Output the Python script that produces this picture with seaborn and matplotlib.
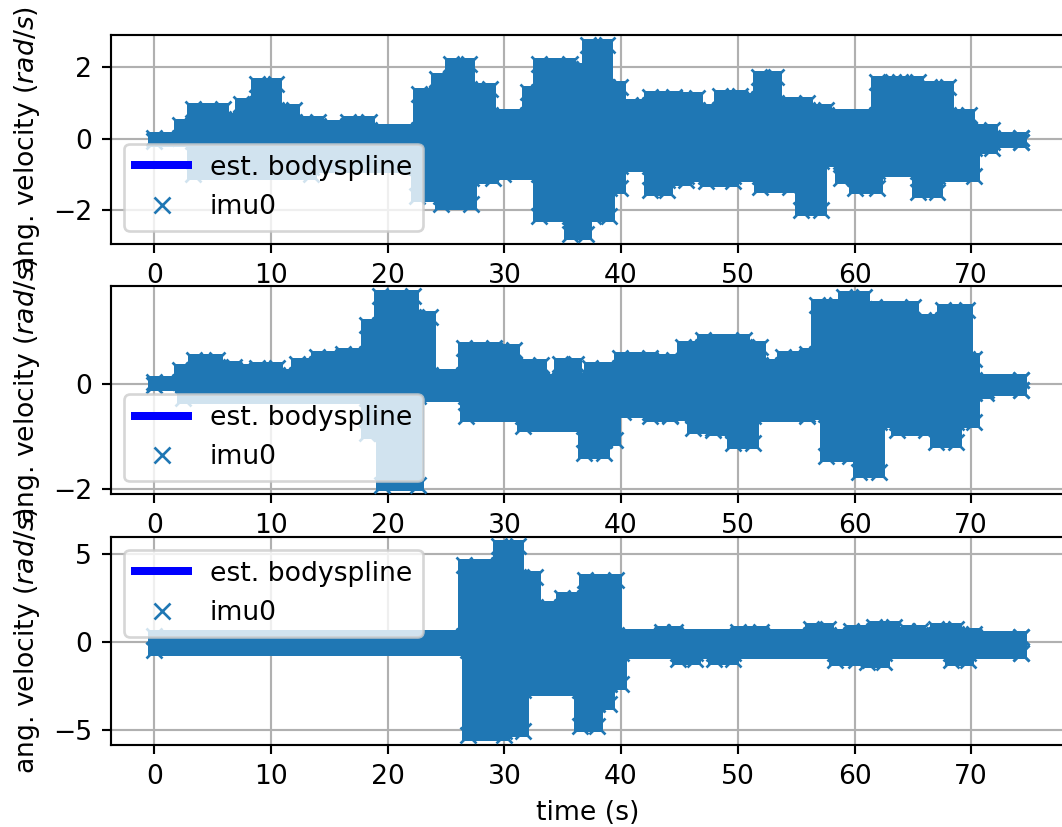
import matplotlib
matplotlib.use("Agg")
import matplotlib.pyplot as plt
import seaborn as sns
import numpy as np

# ---------------- data (envelope of the angular velocity) ----------------
# panel 1
t_hi1 = [0.0, 2.2, 3.3, 5.9, 7.4, 8.8, 10.4, 12.0, 14.0, 16.6, 18.4, 22.7, 24.2, 25.4, 27.0, 28.8,
         32.0, 33.0, 35.6, 36.8, 37.2, 38.8, 39.9, 40.8, 42.5, 44.5, 46.5, 48.5, 50.2, 51.8, 53.3,
         55.9, 57.6, 61.9, 63.3, 63.9, 65.4, 66.4, 68.0, 69.8, 71.8, 74.25]
hi1 = [0.02, 0.37, 0.84, 0.55, 0.98, 1.54, 0.8, 0.47, 0.35, 0.47, 0.25, 1.26, 1.68, 2.1, 1.4, 0.66,
       1.3, 2.1, 1.96, 1.5, 2.64, 1.45, 0.56, 0.93, 1.17, 1.13, 0.8, 1.2, 1.1, 1.73, 0.99,
       0.8, 0.65, 1.59, 0.7, 1.59, 0.8, 1.45, 0.65, 0.23, 0.02, 0.02]
t_lo1 = [0.0, 3.3, 13.4, 22.5, 24.6, 27.1, 29.0, 29.9, 33.0, 35.6, 37.0, 37.6, 39.0, 39.9, 42.5,
         43.9, 45.6, 47.3, 49.6, 51.9, 54.5, 55.4, 57.1, 58.8, 60.0, 61.9, 65.4, 67.1, 70.2, 71.8, 74.25]
lo1 = [-0.07, -1.0, -0.8, -1.6, -1.85, -1.1, -0.8, -1.0, -2.17, -2.69, -1.9, -2.18, -1.4, -0.77, -1.43,
       -1.15, -1.05, -1.2, -1.05, -1.35, -0.8, -2.0, -0.62, -1.1, -1.4, -0.9, -1.5, -1.05, -0.26, -0.1, -0.1]

# panel 2
t_hi2 = [0.0, 2.2, 3.4, 5.4, 6.8, 8.8, 10.5, 12.2, 13.9, 16.2, 18.2, 19.3, 22.2, 23.6, 26.5, 29.1,
         30.8, 33.1, 34.8, 36.1, 37.3, 39.9, 42.5, 44.5, 45.3, 47.0, 50.5, 51.9, 53.9, 55.9, 56.8,
         58.5, 59.1, 60.8, 61.7, 65.0, 65.9, 67.6, 69.6, 70.2, 74.25]
hi2 = [0.03, 0.26, 0.45, 0.32, 0.26, 0.29, 0.16, 0.38, 0.51, 0.57, 1.11, 1.67, 1.27, 0.16, 0.67, 0.64,
       0.35, 0.07, 0.38, 0.07, 0.29, 0.48, 0.45, 0.32, 0.7, 0.83, 0.7, 0.35, 0.51, 0.57, 1.49,
       0.32, 1.64, 1.42, 1.46, 0.64, 1.21, 1.4, 0.47, 0.07, 0.07]
t_lo2 = [0.0, 2.5, 18.2, 19.5, 22.6, 26.7, 31.6, 36.8, 38.5, 39.5, 40.2, 42.5, 44.2, 46.2, 47.9,
         49.6, 51.3, 55.9, 57.6, 59.6, 60.4, 62.1, 63.6, 66.1, 67.0, 68.7, 70.2, 71.3, 74.25]
lo2 = [-0.02, -0.27, -0.94, -1.92, -0.24, -0.62, -0.81, -1.32, -1.07, -0.37, -0.53, -0.62, -0.59, -0.84, -0.87,
       -1.13, -0.62, -0.57, -1.38, -0.57, -1.67, -0.72, -0.87, -0.57, -1.1, -0.73, -0.18, -0.12, -0.12]

# panel 3
t_hi3 = [0.0, 26.5, 29.5, 31.2, 32.6, 34.9, 36.9, 39.6, 43.5, 44.6, 50.0, 52.0, 56.3, 57.7, 59.7,
         61.7, 63.4, 64.5, 65.6, 67.0, 68.7, 70.2, 74.25]
hi3 = [0.35, 4.33, 5.41, 3.67, 1.97, 2.5, 3.48, 0.37, 0.55, 0.37, 0.55, 0.37, 0.71, 0.37, 0.6,
       0.84, 0.4, 0.6, 0.4, 0.75, 0.45, 0.28, 0.28]
t_lo3 = [0.0, 26.9, 30.0, 31.6, 36.5, 37.9, 39.0, 40.0, 44.9, 46.3, 48.0, 49.6, 58.3, 60.1, 61.1,
         62.5, 68.3, 69.7, 74.25]
lo3 = [-0.43, -5.28, -5.04, -2.69, -4.76, -3.53, -2.4, -0.62, -0.95, -0.62, -0.95, -0.62, -1.0, -0.62, -1.15,
       -0.62, -1.0, -0.6, -0.6]

panels = [(t_hi1, hi1, t_lo1, lo1), (t_hi2, hi2, t_lo2, lo2), (t_hi3, hi3, t_lo3, lo3)]
ylims = [(-2.96, 2.91), (-2.10, 1.855), (-5.82, 5.95)]
yticks = [[-2, 0, 2], [-2, 0], [-5, 0, 5]]
legend_locs = ["lower left", "lower left", "upper left"]
ylabel = "ang. velocity ($rad/s$)"
xlabel = "time (s)"

# ---------------- figure ----------------
W, H, DPI = 1062, 827, 192
fig = plt.figure(figsize=(W / DPI, H / DPI), dpi=DPI)
rects = [(111.0, 35.0, 244.0), (111.0, 286.0, 494.3), (111.0, 536.7, 745.0)]
ax_w = (1064.1 - 111.0) / W

IMU = "tab:blue"
for i, ((th, vh, tl, vl), (l, top, bot)) in enumerate(zip(panels, rects)):
    ax = fig.add_axes([l / W, 1 - bot / H, ax_w, (bot - top) / H])
    ax.grid(True, color="#b0b0b0", linewidth=0.8)
    ax.set_axisbelow(True)
    # estimated body spline (drawn beneath the measured samples)
    sns.lineplot(x=th, y=vh, ax=ax, color="blue", lw=3, drawstyle="steps-post",
                 estimator=None, sort=False, label="est. bodyspline", zorder=2)
    sns.lineplot(x=tl, y=vl, ax=ax, color="blue", lw=3, drawstyle="steps-post",
                 estimator=None, sort=False, zorder=2)
    # imu0 samples
    ax.fill_between(th, 0, vh, step="post", color=IMU, edgecolor=IMU, lw=4.5,
                    joinstyle="miter", zorder=2.5)
    ax.fill_between(tl, vl, 0, step="post", color=IMU, edgecolor=IMU, lw=4.5,
                    joinstyle="miter", zorder=2.5)
    mk = dict(color=IMU, linestyle="", marker="x", markersize=6, markeredgecolor=IMU,
              markeredgewidth=1.0, estimator=None, sort=False, zorder=3)
    sns.lineplot(x=th, y=vh, ax=ax, label="imu0", **mk)
    sns.lineplot(x=tl, y=vl, ax=ax, **mk)
    # segment-end samples
    sns.lineplot(x=th[1:], y=vh[:-1], ax=ax, **mk)
    sns.lineplot(x=tl[1:], y=vl[:-1], ax=ax, **mk)
    ax.set_xlim(-3.71, 77.96)
    ax.set_ylim(*ylims[i])
    ax.set_yticks(yticks[i])
    ax.set_xticks(np.arange(0, 80, 10))
    ax.set_ylabel(ylabel)
    ax.set_xlabel(xlabel if i == 2 else "")
    h, lab = ax.get_legend_handles_labels()
    ax.legend(h[:2], lab[:2], loc=legend_locs[i])

fig.savefig("out.png", dpi=DPI)
